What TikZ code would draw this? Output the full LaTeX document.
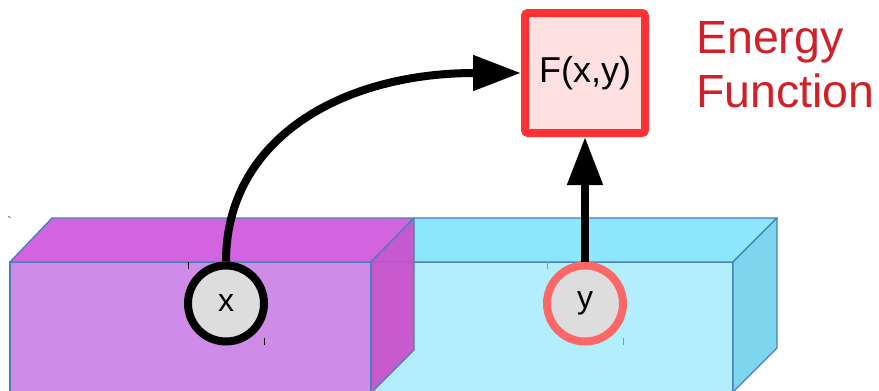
\documentclass[tikz,border=0pt]{standalone}
\usepackage{fontspec}
\setmainfont{Liberation Sans}
\usetikzlibrary{arrows.meta}
\definecolor{pfront}{RGB}{207,139,232}
\definecolor{ptop}{RGB}{211,100,224}
\definecolor{pside}{RGB}{201,79,201}
\definecolor{cfront}{RGB}{179,238,252}
\definecolor{ctop}{RGB}{140,230,252}
\definecolor{cside}{RGB}{125,214,238}
\definecolor{edgeblue}{RGB}{74,126,187}
\definecolor{boxfill}{RGB}{255,224,224}
\definecolor{boxred}{RGB}{255,51,51}
\definecolor{ringred}{RGB}{255,102,102}
\definecolor{textred}{RGB}{208,32,40}
\definecolor{nodegray}{RGB}{221,221,221}
\tikzset{
  face/.style={draw=edgeblue, line width=1.3pt, line join=round},
  varnode/.style={circle, draw=black, line width=8pt, fill=nodegray, minimum size=76pt, inner sep=0pt, font=\fontsize{32}{38}\selectfont},
  energybox/.style={rectangle, draw=boxred, fill=boxfill, line width=8pt, minimum size=120pt, inner sep=0pt, rounded corners=3pt, font=\fontsize{36}{42}\selectfont},
  conn/.style={line width=8pt, -{Triangle[length=48pt,width=34pt]}},
  tick/.style={line width=1pt}
}
\begin{document}
\begin{tikzpicture}[x=1pt,y=-1pt]
\useasboundingbox (0,0) rectangle (879,391);
\begin{scope}
\clip (0,0) rectangle (879,391);
% cyan box
\draw[face, fill=cfront] (371,262) -- (733,262) -- (733,420) -- (371,420) -- cycle;
\draw[face, fill=ctop] (371,262) -- (414,218) -- (777,218) -- (733,262) -- cycle;
\draw[face, fill=cside] (733,262) -- (777,218) -- (777,348) -- (733,392) -- cycle;
% purple box
\draw[face, fill=pfront] (10,262) -- (371,262) -- (371,420) -- (10,420) -- cycle;
\draw[face, fill=ptop] (10,262) -- (52,218) -- (414,218) -- (371,262) -- cycle;
\draw[face, fill=pside, fill opacity=0.92] (371,262) -- (414,218) -- (414,350) -- (371,393) -- cycle;
\end{scope}
% tiny marks
\draw[edgeblue, line width=1pt] (8,216.5) -- (10.5,217.5);
\draw[tick] (188,262) -- (188,269);
\draw[tick] (264,338) -- (264,345);
\draw[tick, ringred] (547,262) -- (547,269);
\draw[tick, ringred] (623,338) -- (623,345);
% nodes
\node[varnode] (x) at (226,303.5) {x};
\node[varnode, draw=ringred] (y) at (585,303.5) {y};
\node[energybox] (F) at (585,73) {F(x,y)};
\node[anchor=north west, inner sep=0pt, align=left, text=textred,
      font=\fontsize{46.5}{54}\selectfont] (energy) at (696,21.5) {Energy\\Function};
% connectors
\draw[conn] (x.north) .. controls (226,140) and (340,73) .. (F.west);
\draw[conn] (y.north) -- (F.south);
\end{tikzpicture}
\end{document}
